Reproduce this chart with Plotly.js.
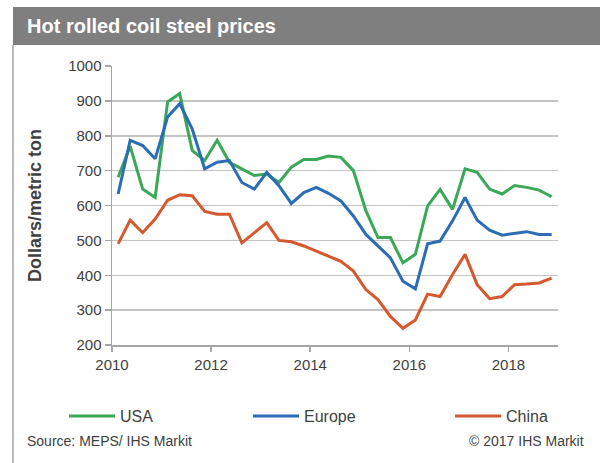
<!DOCTYPE html>
<html>
<head>
<meta charset="utf-8">
<script src="https://cdn.plot.ly/plotly-3.0.1.min.js"></script>
<style>html,body{margin:0;padding:0;background:#fff;}#chart{width:600px;height:463px;}</style>
</head>
<body>
<div id="chart"></div>
<script>
const dates = [
  '2010-02-15','2010-05-15','2010-08-15','2010-11-15',
  '2011-02-15','2011-05-15','2011-08-15','2011-11-15',
  '2012-02-15','2012-05-15','2012-08-15','2012-11-15',
  '2013-02-15','2013-05-15','2013-08-15','2013-11-15',
  '2014-02-15','2014-05-15','2014-08-15','2014-11-15',
  '2015-02-15','2015-05-15','2015-08-15','2015-11-15',
  '2016-02-15','2016-05-15','2016-08-15','2016-11-15',
  '2017-02-15','2017-05-15','2017-08-15','2017-11-15',
  '2018-02-15','2018-05-15','2018-08-15','2018-11-15'
];
const usa = [681,770,647,623, 897,921,758,729, 787,724,705,686, 690,666,710,732,
             732,742,738,700, 585,508,508,436, 460,599,646,589, 705,695,647,633,
             657,652,644,625];
const europe = [633,787,772,734, 854,892,820,705, 724,729,666,647, 695,657,606,637,
                652,635,613,570, 517,484,450,383, 361,490,498,556, 623,558,529,515,
                519,525,517,517];
const china = [490,558,522,561, 615,631,628,583, 575,575,493,522, 551,500,496,484,
               469,455,440,412, 359,330,282,248, 272,346,339,402, 460,373,333,339,
               373,375,378,392];
const seriesNames = ['USA','Europe','China'];
const yTicks = [200,300,400,500,600,700,800,900,1000];

const FONT = 'Liberation Sans, Arial, sans-serif';
const colors = ['#3aa857','#2a6db5','#d6582f'];
const seriesData = [usa, europe, china];
const legendIds = ['legend','legend2','legend3'];
const legendX = [64, 248, 450];

const traces = seriesData.map((vals, i) => ({
  type: 'scatter', mode: 'lines', name: seriesNames[i],
  x: dates, y: vals, legend: legendIds[i],
  line: {color: colors[i], width: 3}
}));

function legendFor(px) {
  return {
    orientation: 'h', xref: 'container', yref: 'container',
    x: px / 600, xanchor: 'left', y: 1 - 416 / 463, yanchor: 'middle',
    font: {family: FONT, size: 16, color: '#404040'},
    itemwidth: 46,
    bgcolor: 'rgba(0,0,0,0)'
  };
}

const layout = {
  width: 600, height: 463,
  margin: {l: 112, r: 42, t: 66, b: 118},
  paper_bgcolor: '#ffffff', plot_bgcolor: '#ffffff',
  font: {family: FONT, color: '#404040', size: 15},
  title: {
    text: '<b>Hot rolled coil steel prices</b>',
    font: {family: FONT, size: 20, color: '#ffffff'},
    x: 0.045, xanchor: 'left', xref: 'container',
    y: 0.944, yanchor: 'middle', yref: 'container'
  },
  xaxis: {
    type: 'date',
    range: ['2010-01-01','2019-01-01'],
    dtick: 'M24', tick0: '2010-01-01', tickformat: '%Y',
    showgrid: false, zeroline: false,
    showline: true, linecolor: '#a6a6a6', linewidth: 1.5,
    ticks: 'outside', ticklen: 5, tickcolor: '#a6a6a6', tickwidth: 1.5,
    tickfont: {family: FONT, size: 15, color: '#404040'}
  },
  yaxis: {
    range: [200, 1000],
    tickvals: yTicks,
    showgrid: true, gridcolor: '#c4c4c4', gridwidth: 1.5,
    zeroline: false,
    showline: true, linecolor: '#a6a6a6', linewidth: 1.5,
    ticks: 'outside', ticklen: 6, tickcolor: '#a6a6a6', tickwidth: 1.5,
    tickfont: {family: FONT, size: 15, color: '#404040'},
    title: {text: '<b>Dollars/metric ton</b>', font: {family: FONT, size: 18, color: '#404040'}, standoff: 22}
  },
  showlegend: true,
  legend: legendFor(legendX[0]),
  legend2: legendFor(legendX[1]),
  legend3: legendFor(legendX[2]),
  shapes: [
    {type: 'rect', xref: 'paper', yref: 'paper', x0: -0.222, x1: 1.1, y0: 1.0753, y1: 1.2115,
     fillcolor: '#7f7f7f', line: {width: 0}, layer: 'below'},
    {type: 'line', xref: 'paper', yref: 'paper', x0: -0.222, x1: -0.222, y0: 1.0753, y1: -0.43,
     line: {color: '#a6a6a6', width: 1.5}, layer: 'below'}
  ],
  annotations: [
    {text: 'Source: MEPS/ IHS Markit', xref: 'paper', yref: 'paper', x: -0.195, y: -0.344,
     xanchor: 'left', yanchor: 'middle', showarrow: false,
     font: {family: FONT, size: 14, color: '#404040'}},
    {text: '© 2017 IHS Markit', xref: 'paper', yref: 'paper', x: 1.063, y: -0.344,
     xanchor: 'right', yanchor: 'middle', showarrow: false,
     font: {family: FONT, size: 14, color: '#404040'}}
  ]
};

Plotly.newPlot('chart', traces, layout, {staticPlot: true, displayModeBar: false});
</script>
</body>
</html>
